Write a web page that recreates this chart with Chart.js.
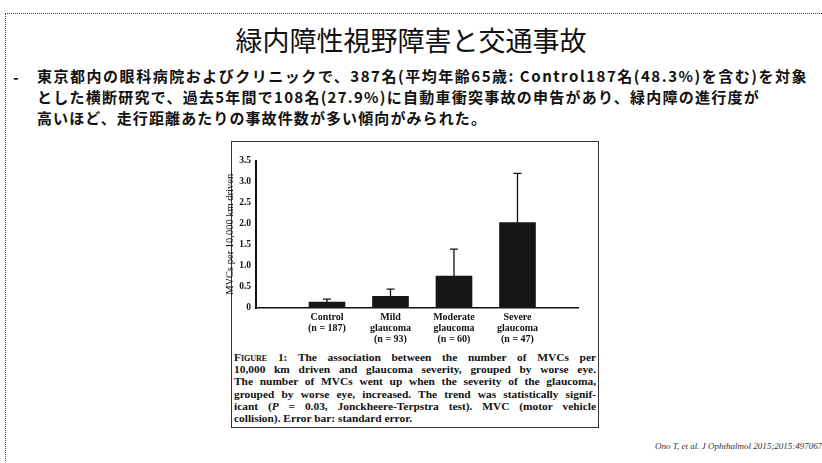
<!DOCTYPE html>
<html>
<head>
<meta charset="utf-8">
<script src="https://cdn.jsdelivr.net/npm/chart.js@4"></script>
<style>
  body { margin: 0; background: #fff; }
  #slide { position: relative; width: 822px; height: 463px; overflow: hidden; background: #fff; }
  #frameTop { position: absolute; left: 5px; top: 13px; width: 817px; border-top: 1px dotted #444; }
  #frameLeft { position: absolute; left: 5px; top: 13px; height: 448px; border-left: 1px dotted #444; }
  #title { position: absolute; left: 0; width: 822px; top: 20px; text-align: center;
           font-family: "Noto Sans CJK JP"; font-size: 27px; color: #111; }
  #bullet { position: absolute; left: 13px; top: 66px; font-family: "Noto Sans CJK JP"; font-weight: bold; font-size: 15px; }
  #lead { position: absolute; left: 37px; top: 66px; font-family: "Noto Sans CJK JP";
          font-weight: bold; font-size: 15px; line-height: 20px; color: #111; }
  #lead div { white-space: nowrap; width: max-content; height: 20px; margin-bottom: 1px; }
  #figbox { position: absolute; left: 231px; top: 141px; width: 368px; height: 287px; border: 1px solid #333; box-sizing: border-box; }
  #chartWrap { position: absolute; left: 224px; top: 150px; width: 374px; height: 198px; }
  #caption { position: absolute; left: 234px; top: 351px; width: 362px; font-family: "Liberation Serif";
             font-weight: bold; font-size: 11.4px; line-height: 12.2px; color: #111; }
  #caption div { text-align: justify; text-align-last: justify; white-space: nowrap; height: 12.2px; }
  #caption div.last { text-align-last: left; }
  #cite { position: absolute; left: 655px; top: 441px; white-space: nowrap; font-family: "Liberation Serif";
          font-style: italic; font-size: 9px; color: #333; }
</style>
</head>
<body>
<div id="slide">
  <div id="frameTop"></div>
  <div id="frameLeft"></div>
  <div id="title">緑内障性視野障害と交通事故</div>
  <div id="bullet">-</div>
  <div id="lead">
    <div data-w="771">東京都内の眼科病院およびクリニックで、387名(平均年齢65歳: Control187名(48.3%)を含む)を対象</div>
    <div data-w="723">とした横断研究で、過去5年間で108名(27.9%)に自動車衝突事故の申告があり、緑内障の進行度が</div>
    <div data-w="450">高いほど、走行距離あたりの事故件数が多い傾向がみられた。</div>
  </div>
  <div id="figbox"></div>
  <div id="chartWrap"><canvas id="myChart" width="374" height="198"></canvas></div>
  <div id="caption">
    <div><span style="font-variant: small-caps">Figure</span> 1: The association between the number of MVCs per</div>
    <div>10,000 km driven and glaucoma severity, grouped by worse eye.</div>
    <div>The number of MVCs went up when the severity of the glaucoma,</div>
    <div>grouped by worse eye, increased. The trend was statistically signif-</div>
    <div>icant (<i>P</i> = 0.03, Jonckheere-Terpstra test). MVC (motor vehicle</div>
    <div class="last">collision). Error bar: standard error.</div>
  </div>
  <div id="cite">Ono T, et al. J Ophthalmol 2015;2015:497067</div>
</div>

<script>
// data
var groups = [["Control", "(n = 187)"], ["Mild", "glaucoma", "(n = 93)"], ["Moderate", "glaucoma", "(n = 60)"], ["Severe", "glaucoma", "(n = 47)"]]
var mvcs = [0.14, 0.28, 0.76, 2.03]
var stdErr = [0.07, 0.17, 0.64, 1.17]
var yTicks = [0, 0.5, 1.0, 1.5, 2.0, 2.5, 3.0, 3.5]

/* stretch the lead lines to the widths seen on the slide */
document.querySelectorAll('#lead div').forEach(function (d) {
  var target = +d.dataset.w
  var n = d.textContent.length
  var w = d.getBoundingClientRect().width
  d.style.letterSpacing = ((target - w) / n) + 'px'
})

/* error bars, upper side only */
const errorBars = {
  id: 'errorBars',
  afterDatasetsDraw(chart) {
    const ctx = chart.ctx
    const xs = chart.scales.x
    const ys = chart.scales.y
    ctx.save()
    ctx.strokeStyle = '#111'
    ctx.lineWidth = 1.3
    for (let i = 0; i < mvcs.length; i++) {
      const x = xs.getPixelForValue(i)
      const y0 = ys.getPixelForValue(mvcs[i])
      const y1 = ys.getPixelForValue(mvcs[i] + stdErr[i])
      ctx.beginPath()
      ctx.moveTo(x, y0)
      ctx.lineTo(x, y1)
      ctx.moveTo(x - 4, y1)
      ctx.lineTo(x + 4, y1)
      ctx.stroke()
    }
    ctx.restore()
  }
}

const config = {
  type: 'bar',
  data: {
    datasets: [{
      data: mvcs.map((v, i) => ({ x: i, y: v })),
      backgroundColor: '#161616',
      borderWidth: 0,
      barThickness: 36
    }]
  },
  options: {
    responsive: false,
    animation: false,
    layout: { padding: { top: 10, right: 20, left: 0, bottom: 0 } },
    plugins: { legend: { display: false }, tooltip: { enabled: false } },
    scales: {
      x: {
        type: 'linear',
        min: -0.484,
        max: 3.319,
        afterBuildTicks: (s) => { s.ticks = groups.map((g, i) => ({ value: i })) },
        afterFit: (s) => { s.height = 40 },
        grid: { display: false, drawTicks: false },
        border: { display: true, color: '#111', width: 1.5 },
        ticks: {
          color: '#111',
          font: { family: 'Liberation Serif', size: 10, weight: 'bold', lineHeight: 1.1 },
          padding: 4,
          maxRotation: 0,
          autoSkip: false,
          callback: (v) => groups[v]
        }
      },
      y: {
        min: 0,
        max: 3.5,
        afterBuildTicks: (s) => { s.ticks = yTicks.map(v => ({ value: v })) },
        afterFit: (s) => { s.width = 32 },
        grid: { display: false, drawTicks: false },
        border: { display: true, color: '#111', width: 2 },
        title: {
          display: true,
          text: 'MVCs per 10,000 km driven',
          color: '#111',
          font: { family: 'Liberation Serif', size: 10.5 },
          padding: 0
        },
        ticks: {
          color: '#111',
          font: { family: 'Liberation Serif', size: 9.5, weight: 'bold' },
          padding: 5,
          callback: (v) => v === 0 ? '0' : v.toFixed(1)
        }
      }
    }
  },
  plugins: [errorBars]
}

const myChart = new Chart(document.getElementById('myChart'), config)
</script>
</body>
</html>
